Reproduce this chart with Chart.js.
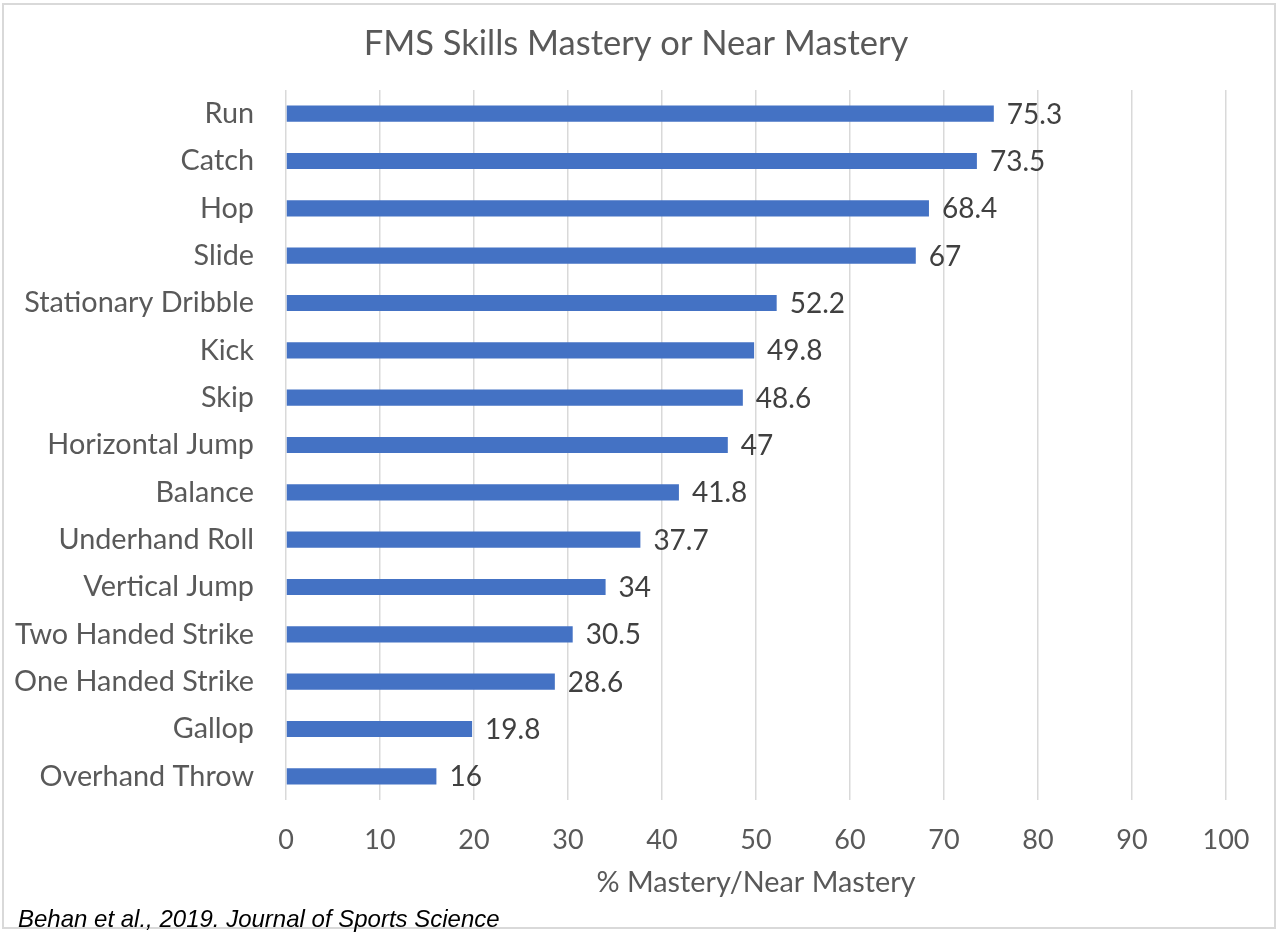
<!DOCTYPE html>
<html>
<head>
<meta charset="utf-8">
<title>FMS Skills Mastery or Near Mastery</title>
<script src="https://cdn.jsdelivr.net/npm/chart.js@4.4.1/dist/chart.umd.min.js"></script>
<style>
  html, body { margin: 0; padding: 0; background: #ffffff; }
  #wrap { position: relative; width: 1280px; height: 949px; }
</style>
</head>
<body>
<div id="wrap"><canvas id="fmsChart" width="1280" height="949"></canvas></div>
<script>
// skills, top to bottom as in the figure
const skills = [
    'Run', 'Catch', 'Hop', 'Slide', 'Stationary Dribble', 'Kick', 'Skip',
    'Horizontal Jump', 'Balance', 'Underhand Roll', 'Vertical Jump',
    'Two Handed Strike', 'One Handed Strike', 'Gallop', 'Overhand Throw'
];
const mastery = [75.3, 73.5, 68.4, 67, 52.2, 49.8, 48.6, 47, 41.8, 37.7, 34, 30.5, 28.6, 19.8, 16];
const xTicks = [0, 10, 20, 30, 40, 50, 60, 70, 80, 90, 100];

const chartTitle = 'FMS Skills Mastery or Near Mastery';
const axisTitle = '% Mastery/Near Mastery';
const sourceNote = 'Behan et al., 2019. Journal of Sports Science';

const FONT = 'Lato, "Open Sans", sans-serif';

// white background, light frame, the title (centred on the frame, not the plot)
// and the source line
const frameAndNote = {
    id: 'frameAndNote',
    beforeDraw(chart) {
        const ctx = chart.ctx;
        ctx.save();
        ctx.fillStyle = '#ffffff';
        ctx.fillRect(0, 0, chart.width, chart.height);
        ctx.strokeStyle = '#d9d9d9';
        ctx.lineWidth = 2;
        ctx.strokeRect(3, 4, 1272, 924);

        ctx.font = '34.5px ' + FONT;
        ctx.fillStyle = '#595959';
        ctx.textAlign = 'center';
        ctx.textBaseline = 'middle';
        ctx.fillText(chartTitle, 636, 44);
        ctx.restore();
    },
    afterDraw(chart) {
        const ctx = chart.ctx;
        ctx.save();
        ctx.font = 'italic 24px "Liberation Sans", Arial, sans-serif';
        ctx.fillStyle = '#000000';
        ctx.textAlign = 'left';
        ctx.textBaseline = 'alphabetic';
        ctx.fillText(sourceNote, 18, 927);
        ctx.restore();
    }
};

// value labels just past the end of each bar
const valueLabels = {
    id: 'valueLabels',
    afterDatasetsDraw(chart) {
        const ctx = chart.ctx;
        const meta = chart.getDatasetMeta(0);
        ctx.save();
        ctx.font = '28px ' + FONT;
        ctx.fillStyle = '#404040';
        ctx.textAlign = 'left';
        ctx.textBaseline = 'middle';
        meta.data.forEach((bar, i) => {
            ctx.fillText(String(mastery[i]), bar.x + 13, bar.y + 1);
        });
        ctx.restore();
    }
};

const ctx = document.getElementById('fmsChart').getContext('2d');
new Chart(ctx, {
    type: 'bar',
    data: {
        labels: skills,
        datasets: [{
            data: mastery,
            backgroundColor: '#4472C4',
            borderWidth: 0,
            categoryPercentage: 1,
            barPercentage: 0.34
        }]
    },
    options: {
        indexAxis: 'y',
        responsive: false,
        animation: false,
        layout: { padding: { top: 90, right: 54, bottom: 49, left: 0 } },
        plugins: {
            legend: { display: false },
            tooltip: { enabled: false },
            title: { display: false }
        },
        scales: {
            x: {
                min: 0,
                max: 100,
                afterBuildTicks: scale => { scale.ticks = xTicks.map(v => ({ value: v })); },
                grid: { color: '#d9d9d9', lineWidth: 1.5, drawTicks: false },
                border: { display: false },
                ticks: {
                    color: '#595959',
                    font: { family: FONT, size: 27 },
                    padding: 24
                },
                title: {
                    display: true,
                    text: axisTitle,
                    color: '#595959',
                    font: { family: FONT, size: 28.8 },
                    padding: { top: 0, bottom: 0 }
                },
                afterFit: scale => { scale.height = 100; }
            },
            y: {
                grid: { display: false, drawTicks: false },
                border: { display: false },
                ticks: {
                    color: '#595959',
                    font: { family: FONT, size: 28.8 },
                    padding: 32,
                    autoSkip: false
                },
                afterFit: scale => { scale.width = 286; }
            }
        }
    },
    plugins: [frameAndNote, valueLabels]
});
</script>
</body>
</html>
